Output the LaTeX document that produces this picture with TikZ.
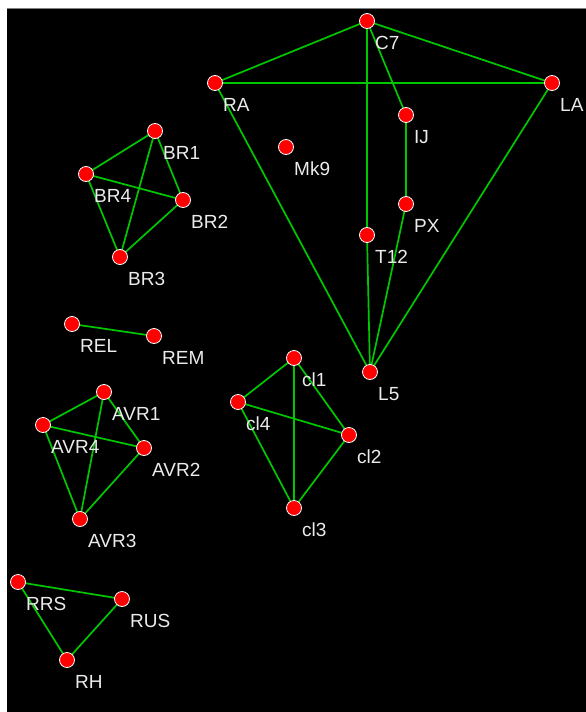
\documentclass[tikz,border=0pt]{standalone}
\usepackage{fontspec}
\setmainfont{Liberation Sans}
\usetikzlibrary{backgrounds}
\definecolor{lgreen}{RGB}{0,200,0}
\begin{document}
\begin{tikzpicture}[x=1pt,y=-1pt,
  pt/.style={circle,fill=red,draw=white,line width=0.8pt,minimum size=15pt,inner sep=0pt},
  lbl/.style={anchor=base west,text=white!92!black,font=\fontsize{19}{19}\selectfont,inner sep=0pt},
  link/.style={draw=lgreen,line width=1.7pt}]
\useasboundingbox (0,0) rectangle (586,712);
\newcommand{\pnode}[4]{%
  \node[pt] (#1) at (#2,#3) {};
  \node[lbl] (#1-l) at (#2+8,#3+28) {#4};}
% main figure
\pnode{C7}{367}{21}{C7}
\pnode{RA}{215}{83}{RA}
\pnode{LA}{552}{83}{LA}
\pnode{IJ}{406}{115}{IJ}
\pnode{Mk9}{286}{147}{Mk9}
\pnode{PX}{406}{204}{PX}
\pnode{T12}{367}{235}{T12}
\pnode{L5}{370}{372}{L5}
% BR
\pnode{BR1}{155}{131}{BR1}
\pnode{BR4}{86}{174}{BR4}
\pnode{BR2}{183}{200}{BR2}
\pnode{BR3}{120}{257}{BR3}
% RE
\pnode{REL}{72}{324}{REL}
\pnode{REM}{154}{336}{REM}
% AVR
\pnode{AVR1}{104}{392}{AVR1}
\pnode{AVR4}{43}{425}{AVR4}
\pnode{AVR2}{144}{448}{AVR2}
\pnode{AVR3}{80}{519}{AVR3}
% cl
\pnode{cl1}{294}{358}{cl1}
\pnode{cl4}{238}{402}{cl4}
\pnode{cl2}{349}{435}{cl2}
\pnode{cl3}{294}{508}{cl3}
% R
\pnode{RRS}{18}{582}{RRS}
\pnode{RUS}{122}{599}{RUS}
\pnode{RH}{67}{660}{RH}
\begin{scope}[on background layer]
\fill[white] (0,0) rectangle (586,712);
\fill[black] (7,8) rectangle (586,712);
\draw[gray,line width=0.8pt] (7,8) -- (586,8);
% edges
\path[link] (C7.center) -- (RA.center) (C7.center) -- (LA.center) (RA.center) -- (LA.center)
  (C7.center) -- (T12.center) (T12.center) -- (L5.center)
  (C7.center) -- (IJ.center) (IJ.center) -- (PX.center) (PX.center) -- (L5.center)
  (RA.center) -- (L5.center) (LA.center) -- (L5.center);
\path[link] (BR1.center) -- (BR4.center) (BR1.center) -- (BR2.center) (BR1.center) -- (BR3.center)
  (BR4.center) -- (BR2.center) (BR4.center) -- (BR3.center) (BR2.center) -- (BR3.center);
\path[link] (REL.center) -- (REM.center);
\path[link] (AVR1.center) -- (AVR4.center) (AVR1.center) -- (AVR2.center) (AVR1.center) -- (AVR3.center)
  (AVR4.center) -- (AVR2.center) (AVR4.center) -- (AVR3.center) (AVR2.center) -- (AVR3.center);
\path[link] (cl1.center) -- (cl4.center) (cl1.center) -- (cl2.center) (cl1.center) -- (cl3.center)
  (cl4.center) -- (cl2.center) (cl4.center) -- (cl3.center) (cl2.center) -- (cl3.center);
\path[link] (RRS.center) -- (RUS.center) (RUS.center) -- (RH.center) (RH.center) -- (RRS.center);
\end{scope}
\end{tikzpicture}
\end{document}
